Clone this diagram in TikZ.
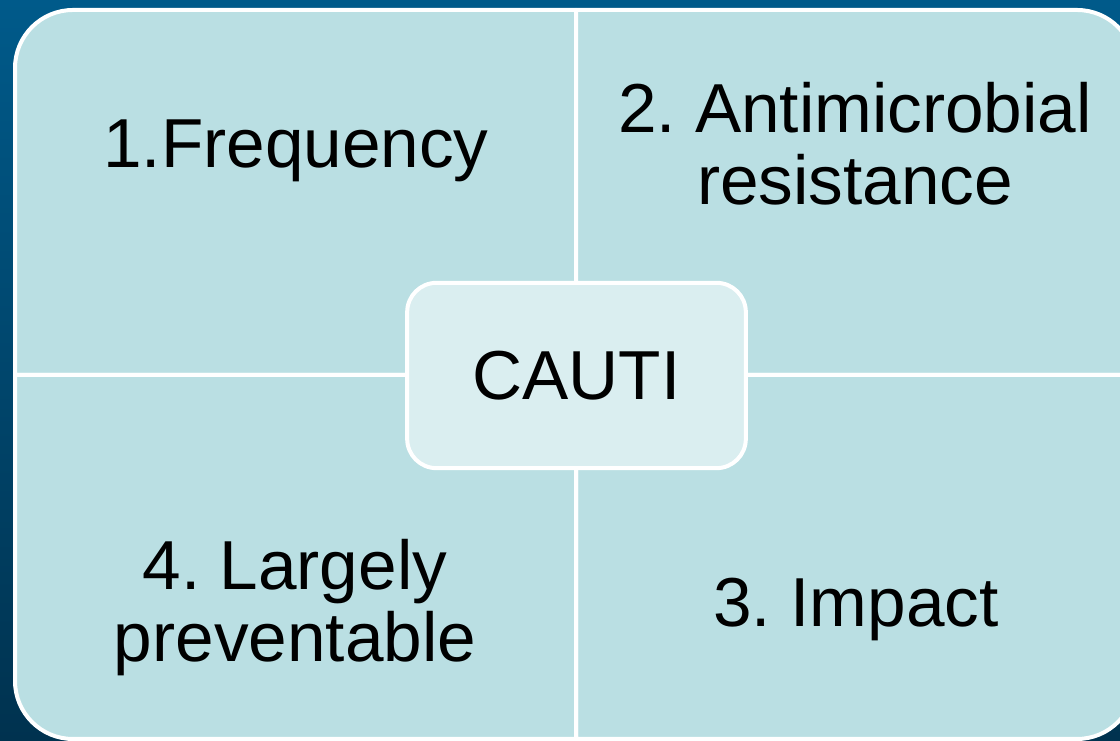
\documentclass[tikz,border=0pt]{standalone}
\usepackage{fontspec}
\setmainfont{Liberation Sans}
\frenchspacing
\definecolor{bgtop}{HTML}{005A8A}
\definecolor{bgbot}{HTML}{00324F}
\definecolor{quadfill}{HTML}{BADFE3}
\definecolor{hubfill}{HTML}{DAEEF0}

\begin{document}
\begin{tikzpicture}[x=0.75pt,y=0.75pt,
  quad/.style={fill=quadfill,draw=white,line width=3pt,line join=round},
  itemtext/.style={font=\fontsize{52}{54}\selectfont,align=center,anchor=base,inner sep=0pt},
  hub/.style={fill=hubfill,draw=white,line width=3pt,rounded corners=22pt,
    minimum width=254pt,minimum height=139pt,font=\fontsize{52}{54}\selectfont}]
\useasboundingbox (0,0) rectangle (1120,741);
\shade[top color=bgtop,bottom color=bgbot] (0,0) rectangle (1120,741);
\clip (0,0) rectangle (1120,741);
% four quadrants, one outer corner rounded each
\draw[quad] (576,366) -- (15,366) -- (15,673) arc[start angle=180,end angle=90,radius=58] -- (576,731) -- cycle;
\draw[quad] (576,366) -- (576,731) -- (1077,731) arc[start angle=90,end angle=0,radius=58] -- (1135,366) -- cycle;
\draw[quad] (576,366) -- (1135,366) -- (1135,60) arc[start angle=0,end angle=-90,radius=58] -- (576,2) -- cycle;
\draw[quad] (576,366) -- (576,2) -- (73,2) arc[start angle=270,end angle=180,radius=58] -- (15,366) -- cycle;
% texts (base = last line)
\node[itemtext] (freq) at (296,573) {1.Frequency};
\node[itemtext] (amr) at (855,536) {2. Antimicrobial\\resistance};
\node[itemtext] (impact) at (856,114) {3. Impact};
\node[itemtext] (prevent) at (295,79) {4. Largely\\preventable};
% centre
\node[hub] (cauti) at (576.5,365.5) {CAUTI};
\end{tikzpicture}
\end{document}
